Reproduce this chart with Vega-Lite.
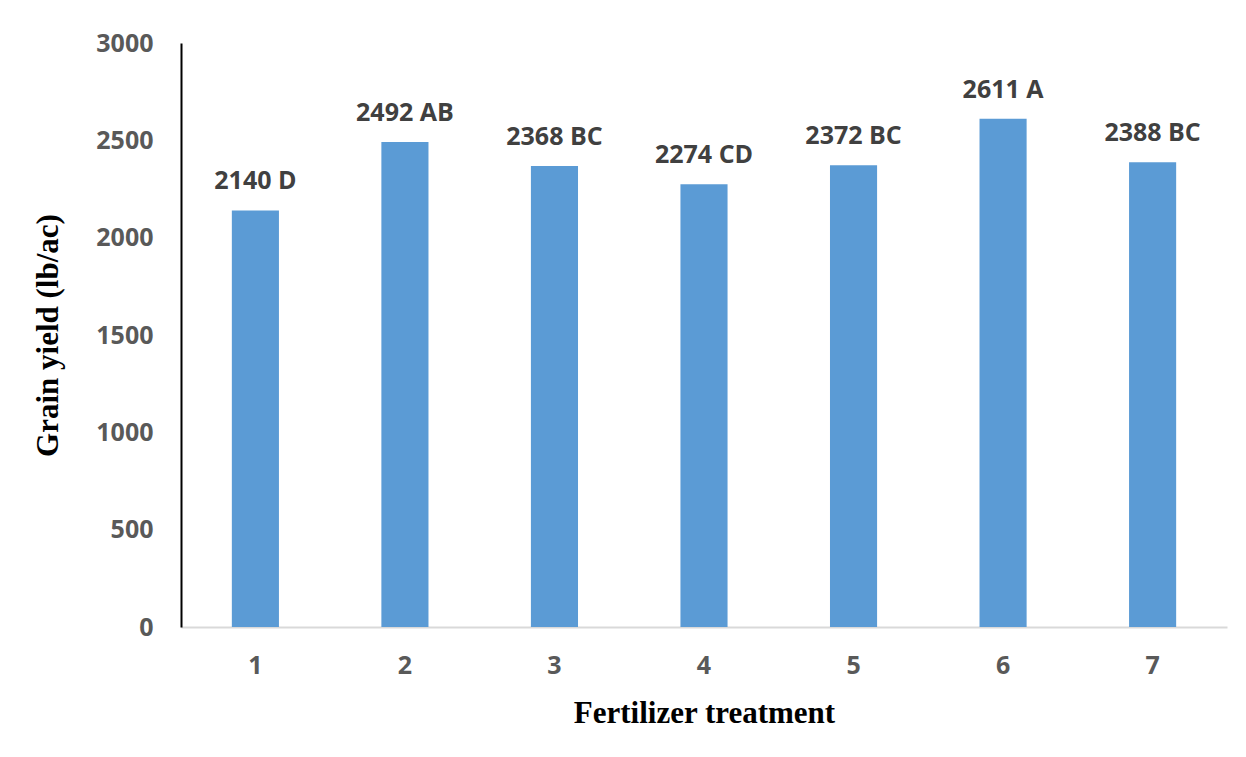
{
  "$schema": "https://vega.github.io/schema/vega-lite/v6.json",
  "width": 1046,
  "height": 584,
  "autosize": {"type": "none"},
  "padding": {"left": 181, "top": 43, "right": 19, "bottom": 130},
  "background": "white",
  "config": {"view": {"stroke": null}},
  "data": {"values": [
    {"treatment": "1", "yield": 2140, "label": "2140 D"},
    {"treatment": "2", "yield": 2492, "label": "2492 AB"},
    {"treatment": "3", "yield": 2368, "label": "2368 BC"},
    {"treatment": "4", "yield": 2274, "label": "2274 CD"},
    {"treatment": "5", "yield": 2372, "label": "2372 BC"},
    {"treatment": "6", "yield": 2611, "label": "2611 A"},
    {"treatment": "7", "yield": 2388, "label": "2388 BC"}
  ]},
  "encoding": {
    "x": {
      "field": "treatment", "type": "ordinal",
      "scale": {"paddingInner": 0.685, "paddingOuter": 0.34},
      "axis": {
        "title": "Fertilizer treatment",
        "titleFont": "Liberation Serif", "titleFontSize": 31, "titleFontWeight": "bold", "titleColor": "black",
        "titlePadding": 20,
        "labelAngle": 0, "labelFont": "Open Sans", "labelFontSize": 25, "labelFontWeight": "bold", "labelColor": "#595959",
        "labelPadding": 26,
        "ticks": false, "domainColor": "#d9d9d9", "domainWidth": 2
      }
    },
    "y": {
      "field": "yield", "type": "quantitative",
      "scale": {"domain": [0, 3000]},
      "axis": {
        "title": "Grain yield (lb/ac)",
        "titleFont": "Liberation Serif", "titleFontSize": 31, "titleFontWeight": "bold", "titleColor": "black",
        "titlePadding": 31,
        "values": [0, 500, 1000, 1500, 2000, 2500, 3000],
        "format": "d",
        "labelFont": "Open Sans", "labelFontSize": 25, "labelFontWeight": "bold", "labelColor": "#595959",
        "labelPadding": 28,
        "ticks": false, "grid": false, "domainColor": "black", "domainWidth": 2
      }
    }
  },
  "layer": [
    {"mark": {"type": "bar", "color": "#5b9bd5"}},
    {
      "mark": {"type": "text", "dy": -29, "font": "Open Sans", "fontSize": 25, "fontWeight": "bold", "color": "#404040"},
      "encoding": {"text": {"field": "label"}}
    }
  ]
}
